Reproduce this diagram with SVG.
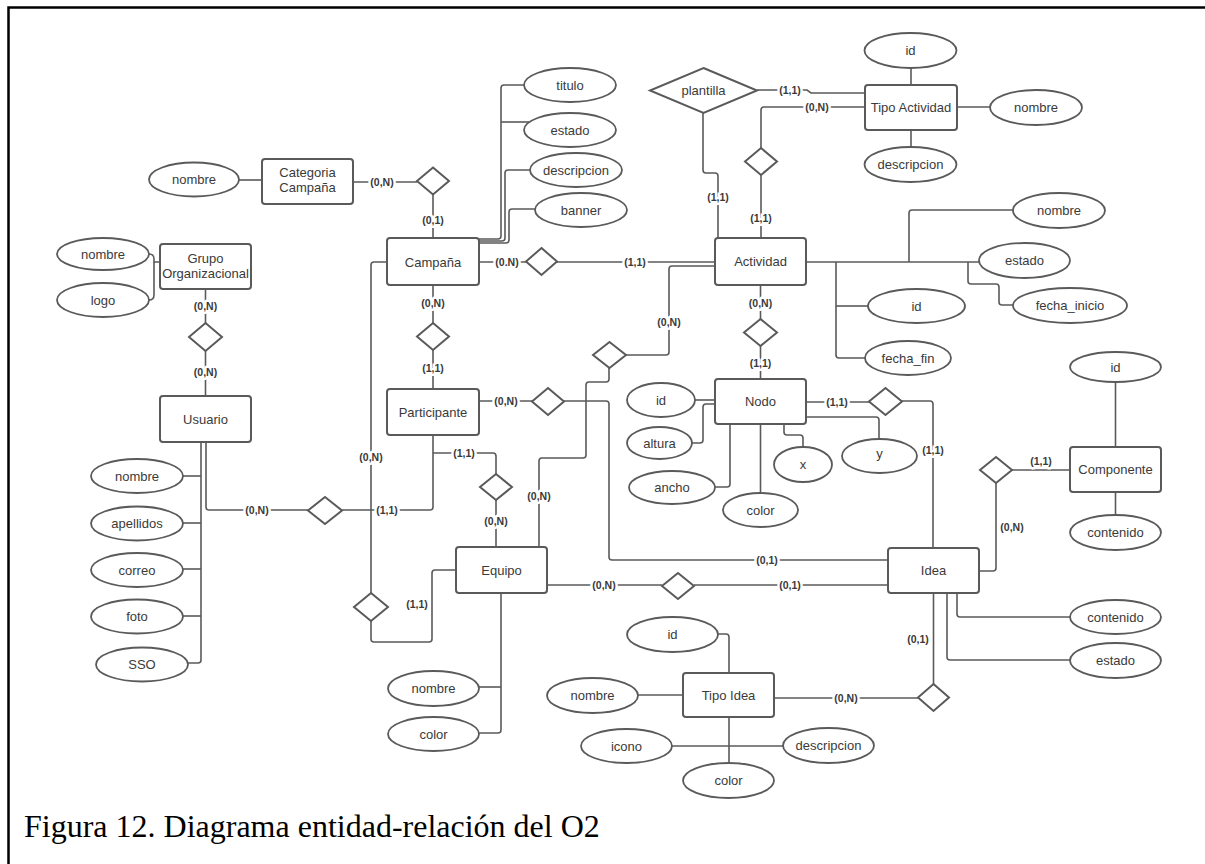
<svg xmlns="http://www.w3.org/2000/svg" width="1205" height="864" viewBox="0 0 1205 864">
<style>
.e{fill:#fff;stroke:#5a5a5a;stroke-width:1.8}
.r{fill:#fff;stroke:#5a5a5a;stroke-width:2}
.d{fill:#fff;stroke:#5a5a5a;stroke-width:2}
.t{font-family:"Liberation Sans",Arial,sans-serif;font-size:13px;fill:#3a3a3a;text-anchor:middle}
.l{font-family:"Liberation Sans",Arial,sans-serif;font-size:10.5px;font-weight:bold;fill:#3a3a3a;text-anchor:middle;stroke:#fff;stroke-width:5;stroke-linejoin:round;paint-order:stroke}
#connectors path{fill:none;stroke:#5a5a5a;stroke-width:1.6}
</style>
<rect width="1205" height="864" fill="#fff"/>
<path d="M8.5,864 V7.5 H1205" fill="none" stroke="#000" stroke-width="2.5"/>

<g id="connectors">
<path d="M239,180 H262"/>
<path d="M353,182 H417"/>
<path d="M433,195 V238"/>
<path d="M479,239 H498 q3,0 3,-3 V88 q0,-3 3,-3 H524"/>
<path d="M501,122 H529"/>
<path d="M479,241 H502 q3,0 3,-3 V173 q0,-3 3,-3 H530"/>
<path d="M479,243 H506 q3,0 3,-3 V212 q0,-3 3,-3 H535"/>
<path d="M479,262 H526"/>
<path d="M557,262 H715"/>
<path d="M433,285 V323"/>
<path d="M433,350 V389"/>
<path d="M387,262 H374 q-3,0 -3,3 V593"/>
<path d="M371,621 V639 q0,3 3,3 H429 q3,0 3,-3 V573 q0,-3 3,-3 H456"/>
<path d="M149,254 Q154,254 154,259 V262 H160"/>
<path d="M149,300 Q154,300 154,295 V262"/>
<path d="M205.5,289 V323"/>
<path d="M205.5,351 V396"/>
<path d="M201,442 V660 q0,3 -3,3 H188"/>
<path d="M183,476 H201"/>
<path d="M183,523 H201"/>
<path d="M183,569 H201"/>
<path d="M183,616 H201"/>
<path d="M206,442 V507 q0,3 3,3 H308"/>
<path d="M342,510 H430 q3,0 3,-3 V435"/>
<path d="M433,453 H493 q3,0 3,3 V474"/>
<path d="M496,500 V547"/>
<path d="M479,401 H532"/>
<path d="M564,401 H606 q3,0 3,3 V557 q0,3 3,3 H888"/>
<path d="M539,547 V461 q0,-3 3,-3 H583 q3,0 3,-3 V385 q0,-3 3,-3 H606 q3,0 3,-3 V368"/>
<path d="M626,355 H666 q3,0 3,-3 V269 q0,-3 3,-3 H715"/>
<path d="M757,90 H807 L811,93 H865"/>
<path d="M703,113 V170 q0,3 3,3 H715 q3,0 3,3 V238"/>
<path d="M865,107 H764 q-3,0 -3,3 V148"/>
<path d="M761,175 V238"/>
<path d="M911,68 V85"/>
<path d="M957,107 H990"/>
<path d="M911,130 V147"/>
<path d="M806,262 H979"/>
<path d="M909,262 V213 q0,-3 3,-3 H1013"/>
<path d="M968,262 V281 q0,3 3,3 H996 q3,0 3,3 V302 q0,3 3,3 H1013"/>
<path d="M836,262 V355 q0,3 3,3 H865"/>
<path d="M836,306 H868"/>
<path d="M760.5,285 V319"/>
<path d="M760.5,346 V379"/>
<path d="M695,400 H715"/>
<path d="M692,443 H700 q3,0 3,-3 V407 q0,-3 3,-3 H715"/>
<path d="M715,487 H727 q3,0 3,-3 V424"/>
<path d="M760.5,424 V493"/>
<path d="M784,424 V432 q0,3 3,3 H800 q3,0 3,3 V447"/>
<path d="M806,417 H876 q3,0 3,3 V439"/>
<path d="M806,402 H869"/>
<path d="M902,401 H930 q3,0 3,3 V548"/>
<path d="M1012,470 H1070"/>
<path d="M996,483 V568 q0,3 -3,3 H979"/>
<path d="M1115.5,382 V447"/>
<path d="M1115.5,492 V515"/>
<path d="M547,585 H662"/>
<path d="M694,585 H888"/>
<path d="M501,593 V730 q0,3 -3,3 H479"/>
<path d="M501,687 H479"/>
<path d="M957,593 V614 q0,3 3,3 H1070"/>
<path d="M947,593 V657 q0,3 3,3 H1070"/>
<path d="M933.5,593 V684"/>
<path d="M918,698 H774"/>
<path d="M718,634 H726 q3,0 3,3 V673"/>
<path d="M638,695 H683"/>
<path d="M729,717 V763"/>
<path d="M672,746 H783"/>
</g>

<g id="labels">
<text class="l" x="382" y="185.5">(0,N)</text>
<text class="l" x="433" y="223.5">(0,1)</text>
<text class="l" x="507" y="265.5">(0.N)</text>
<text class="l" x="635" y="265.5">(1,1)</text>
<text class="l" x="433" y="306.5">(0,N)</text>
<text class="l" x="433" y="371.5">(1,1)</text>
<text class="l" x="205.5" y="309.5">(0,N)</text>
<text class="l" x="205.5" y="375.5">(0,N)</text>
<text class="l" x="371" y="460.5">(0,N)</text>
<text class="l" x="257" y="513.5">(0,N)</text>
<text class="l" x="387" y="513.5">(1,1)</text>
<text class="l" x="506" y="404.5">(0,N)</text>
<text class="l" x="464" y="456.5">(1,1)</text>
<text class="l" x="496" y="524.5">(0,N)</text>
<text class="l" x="417" y="607.5">(1,1)</text>
<text class="l" x="539" y="499.5">(0,N)</text>
<text class="l" x="669" y="325.5">(0,N)</text>
<text class="l" x="790" y="93.5">(1,1)</text>
<text class="l" x="817" y="110.5">(0,N)</text>
<text class="l" x="718" y="200.5">(1,1)</text>
<text class="l" x="761" y="221.5">(1,1)</text>
<text class="l" x="760.5" y="306.5">(0,N)</text>
<text class="l" x="760.5" y="366.5">(1,1)</text>
<text class="l" x="837" y="405.5">(1,1)</text>
<text class="l" x="933" y="453.5">(1,1)</text>
<text class="l" x="1041" y="464.5">(1,1)</text>
<text class="l" x="1012" y="530.5">(0,N)</text>
<text class="l" x="767" y="563.5">(0,1)</text>
<text class="l" x="604" y="588.5">(0,N)</text>
<text class="l" x="790" y="588.5">(0,1)</text>
<text class="l" x="918" y="642.5">(0,1)</text>
<text class="l" x="846" y="701.5">(0,N)</text>
</g>

<g id="rel-categoria-campana"><polygon class="d" points="433,167.5 449,181 433,194.5 417,181"/></g>
<g id="rel-campana-actividad"><polygon class="d" points="541.5,248 557,261.5 541.5,275 526,261.5"/></g>
<g id="rel-campana-participante"><polygon class="d" points="433,323 449,336.5 433,350 417,336.5"/></g>
<g id="rel-campana-equipo"><polygon class="d" points="371,593 388,607 371,621 354,607"/></g>
<g id="rel-grupo-usuario"><polygon class="d" points="205.5,323 222,337 205.5,351 189,337"/></g>
<g id="rel-usuario-participante"><polygon class="d" points="325,497 342,510.5 325,524 308,510.5"/></g>
<g id="rel-participante-equipo"><polygon class="d" points="496,474 512,487 496,500 480,487"/></g>
<g id="rel-participante-idea"><polygon class="d" points="548,388 564,401.5 548,415 532,401.5"/></g>
<g id="rel-equipo-actividad"><polygon class="d" points="609.5,342 626,355 609.5,368 593,355"/></g>
<g id="plantilla"><polygon class="d" points="703.5,68 757,90.5 703.5,113 650,90.5"/><text class="t" x="703.5" y="95">plantilla</text></g>
<g id="rel-tipoactividad-actividad"><polygon class="d" points="761,148 777,161.5 761,175 745,161.5"/></g>
<g id="rel-actividad-nodo"><polygon class="d" points="760.5,319 777,332.5 760.5,346 744,332.5"/></g>
<g id="rel-nodo-idea"><polygon class="d" points="885.5,388 902,401.5 885.5,415 869,401.5"/></g>
<g id="rel-idea-componente"><polygon class="d" points="996,457 1012,470 996,483 980,470"/></g>
<g id="rel-equipo-idea"><polygon class="d" points="678,573 694,586 678,599 662,586"/></g>
<g id="rel-idea-tipoidea"><polygon class="d" points="933.5,684 949,697.5 933.5,711 918,697.5"/></g>

<g id="categoria-campana"><rect class="r" x="262" y="159" width="91" height="45" rx="3"/><text class="t" x="307.5" y="177">Categoria</text><text class="t" x="307.5" y="192">Campaña</text></g>
<g id="campana"><rect class="r" x="387" y="238" width="92" height="47" rx="3"/><text class="t" x="433" y="266.5">Campaña</text></g>
<g id="grupo-organizacional"><rect class="r" x="160" y="244" width="91" height="45" rx="3"/><text class="t" x="205.5" y="262.5">Grupo</text><text class="t" x="205.5" y="277.5">Organizacional</text></g>
<g id="usuario"><rect class="r" x="160" y="396" width="91" height="46" rx="3"/><text class="t" x="205.5" y="423.5">Usuario</text></g>
<g id="participante"><rect class="r" x="387" y="389" width="92" height="46" rx="3"/><text class="t" x="433" y="416.5">Participante</text></g>
<g id="equipo"><rect class="r" x="456" y="547" width="91" height="46" rx="3"/><text class="t" x="501.5" y="574.5">Equipo</text></g>
<g id="actividad"><rect class="r" x="715" y="238" width="91" height="47" rx="3"/><text class="t" x="760.5" y="266">Actividad</text></g>
<g id="tipo-actividad"><rect class="r" x="865" y="85" width="92" height="45" rx="3"/><text class="t" x="911" y="112">Tipo Actividad</text></g>
<g id="nodo"><rect class="r" x="715" y="379" width="91" height="45" rx="3"/><text class="t" x="760.5" y="405.5">Nodo</text></g>
<g id="componente"><rect class="r" x="1070" y="447" width="91" height="45" rx="3"/><text class="t" x="1115.5" y="473.5">Componente</text></g>
<g id="idea"><rect class="r" x="888" y="548" width="91" height="45" rx="3"/><text class="t" x="933.5" y="575">Idea</text></g>
<g id="tipo-idea"><rect class="r" x="683" y="673" width="91" height="44" rx="3"/><text class="t" x="728.5" y="699.5">Tipo Idea</text></g>

<g id="attr-categoria-nombre"><ellipse class="e" cx="194" cy="179.5" rx="45" ry="17"/><text class="t" x="194" y="184">nombre</text></g>
<g id="attr-campana-titulo"><ellipse class="e" cx="570" cy="85" rx="46" ry="17"/><text class="t" x="570" y="89.5">titulo</text></g>
<g id="attr-campana-estado"><ellipse class="e" cx="570" cy="130" rx="46" ry="17"/><text class="t" x="570" y="134.5">estado</text></g>
<g id="attr-campana-descripcion"><ellipse class="e" cx="576" cy="170" rx="46" ry="17"/><text class="t" x="576" y="174.5">descripcion</text></g>
<g id="attr-campana-banner"><ellipse class="e" cx="581" cy="210" rx="46" ry="17"/><text class="t" x="581" y="214.5">banner</text></g>
<g id="attr-grupo-nombre"><ellipse class="e" cx="103" cy="254" rx="46" ry="16"/><text class="t" x="103" y="258.5">nombre</text></g>
<g id="attr-grupo-logo"><ellipse class="e" cx="103" cy="300" rx="46" ry="17"/><text class="t" x="103" y="304.5">logo</text></g>
<g id="attr-usuario-nombre"><ellipse class="e" cx="137" cy="476" rx="46" ry="17"/><text class="t" x="137" y="480.5">nombre</text></g>
<g id="attr-usuario-apellidos"><ellipse class="e" cx="137" cy="523.5" rx="46" ry="17"/><text class="t" x="137" y="528">apellidos</text></g>
<g id="attr-usuario-correo"><ellipse class="e" cx="137" cy="570" rx="46" ry="17"/><text class="t" x="137" y="574.5">correo</text></g>
<g id="attr-usuario-foto"><ellipse class="e" cx="137" cy="616.5" rx="46" ry="17"/><text class="t" x="137" y="621">foto</text></g>
<g id="attr-usuario-sso"><ellipse class="e" cx="142" cy="664.5" rx="46" ry="17"/><text class="t" x="142" y="669">SSO</text></g>
<g id="attr-tipoactividad-id"><ellipse class="e" cx="910.5" cy="50.5" rx="46" ry="17.5"/><text class="t" x="910.5" y="55">id</text></g>
<g id="attr-tipoactividad-nombre"><ellipse class="e" cx="1036" cy="107.5" rx="46" ry="17.5"/><text class="t" x="1036" y="112">nombre</text></g>
<g id="attr-tipoactividad-descripcion"><ellipse class="e" cx="910.5" cy="164.5" rx="46" ry="17.5"/><text class="t" x="910.5" y="169">descripcion</text></g>
<g id="attr-actividad-nombre"><ellipse class="e" cx="1059" cy="210.5" rx="46" ry="17.5"/><text class="t" x="1059" y="215">nombre</text></g>
<g id="attr-actividad-estado"><ellipse class="e" cx="1024.5" cy="260.5" rx="45.5" ry="17.5"/><text class="t" x="1024.5" y="265">estado</text></g>
<g id="attr-actividad-fecha-inicio"><ellipse class="e" cx="1070" cy="305.5" rx="57" ry="17.5"/><text class="t" x="1070" y="310">fecha_inicio</text></g>
<g id="attr-actividad-id"><ellipse class="e" cx="916.5" cy="306" rx="48.5" ry="17"/><text class="t" x="916.5" y="310.5">id</text></g>
<g id="attr-actividad-fecha-fin"><ellipse class="e" cx="908" cy="358" rx="43" ry="17"/><text class="t" x="908" y="362.5">fecha_fin</text></g>
<g id="attr-nodo-id"><ellipse class="e" cx="661" cy="400" rx="34" ry="17"/><text class="t" x="661" y="404.5">id</text></g>
<g id="attr-nodo-altura"><ellipse class="e" cx="659.5" cy="443" rx="32.5" ry="16"/><text class="t" x="659.5" y="447.5">altura</text></g>
<g id="attr-nodo-ancho"><ellipse class="e" cx="672" cy="487.5" rx="43" ry="16.5"/><text class="t" x="672" y="492">ancho</text></g>
<g id="attr-nodo-color"><ellipse class="e" cx="760.5" cy="510" rx="37.5" ry="17"/><text class="t" x="760.5" y="514.5">color</text></g>
<g id="attr-nodo-x"><ellipse class="e" cx="803" cy="464.5" rx="29" ry="17.5"/><text class="t" x="803" y="469">x</text></g>
<g id="attr-nodo-y"><ellipse class="e" cx="879.5" cy="456" rx="37.5" ry="17"/><text class="t" x="879.5" y="458">y</text></g>
<g id="attr-componente-id"><ellipse class="e" cx="1115.5" cy="367" rx="45.5" ry="15"/><text class="t" x="1115.5" y="371.5">id</text></g>
<g id="attr-componente-contenido"><ellipse class="e" cx="1115.5" cy="532.5" rx="45.5" ry="17.5"/><text class="t" x="1115.5" y="537">contenido</text></g>
<g id="attr-idea-contenido"><ellipse class="e" cx="1115.5" cy="617" rx="45.5" ry="17"/><text class="t" x="1115.5" y="621.5">contenido</text></g>
<g id="attr-idea-estado"><ellipse class="e" cx="1115.5" cy="660.5" rx="45.5" ry="17.5"/><text class="t" x="1115.5" y="665">estado</text></g>
<g id="attr-equipo-nombre"><ellipse class="e" cx="433.5" cy="688.5" rx="45.5" ry="17.5"/><text class="t" x="433.5" y="693">nombre</text></g>
<g id="attr-equipo-color"><ellipse class="e" cx="433.5" cy="734" rx="45.5" ry="17"/><text class="t" x="433.5" y="738.5">color</text></g>
<g id="attr-tipoidea-id"><ellipse class="e" cx="672.5" cy="634.5" rx="45.5" ry="17.5"/><text class="t" x="672.5" y="639">id</text></g>
<g id="attr-tipoidea-nombre"><ellipse class="e" cx="592.5" cy="695.5" rx="45.5" ry="17.5"/><text class="t" x="592.5" y="700">nombre</text></g>
<g id="attr-tipoidea-icono"><ellipse class="e" cx="626.5" cy="746" rx="45.5" ry="17"/><text class="t" x="626.5" y="750.5">icono</text></g>
<g id="attr-tipoidea-descripcion"><ellipse class="e" cx="828.5" cy="745.5" rx="45.5" ry="17.5"/><text class="t" x="828.5" y="750">descripcion</text></g>
<g id="attr-tipoidea-color"><ellipse class="e" cx="728.5" cy="780.5" rx="45.5" ry="17.5"/><text class="t" x="728.5" y="785">color</text></g>

<text x="24" y="837" font-family="'Liberation Serif','Times New Roman',serif" font-size="32" fill="#000">Figura 12. Diagrama entidad-relación del O2</text>
</svg>
